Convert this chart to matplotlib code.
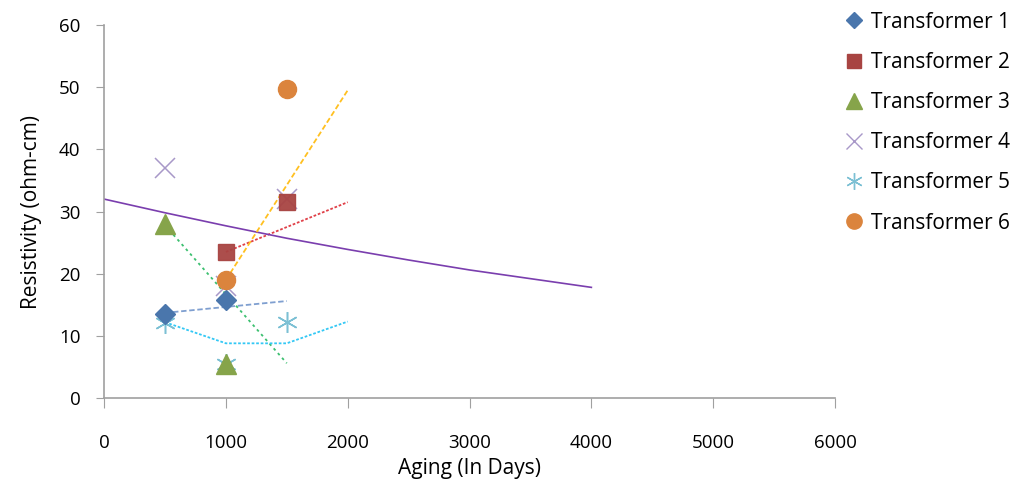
import matplotlib
matplotlib.use("Agg")
import matplotlib.pyplot as plt
from matplotlib.lines import Line2D

plt.rcParams['font.family'] = ['Open Sans', 'DejaVu Sans']

names = ["Transformer 1", "Transformer 2", "Transformer 3",
         "Transformer 4", "Transformer 5", "Transformer 6"]

t1_x = [500, 1000];        t1_y = [13.5, 15.8]
t2_x = [1000, 1500];       t2_y = [23.5, 31.5]
t3_x = [500, 1000];        t3_y = [28.0, 5.5]
t4_x = [500, 1000, 1500];  t4_y = [37.0, 18.0, 32.0]
t5_x = [500, 1000, 1500];  t5_y = [12.0, 5.5, 12.3]
t6_x = [1000, 1500];       t6_y = [19.0, 49.7]

# trend lines
tr1_x = [500, 1500];  tr1_y = [13.7, 15.6]
tr2_x = [1000, 2000]; tr2_y = [23.5, 31.5]
tr3_x = [500, 1500];  tr3_y = [27.8, 5.6]
tr4_x = [0, 500, 1000, 1500, 2000, 2500, 3000, 3500, 4000]
tr4_y = [32.0, 29.8, 27.7, 25.7, 23.9, 22.2, 20.6, 19.2, 17.8]
tr5_x = [500, 1000, 1500, 2000]; tr5_y = [12.2, 8.8, 8.8, 12.3]
tr6_x = [1000, 2000]; tr6_y = [19.0, 49.5]

x_ticks = [0, 1000, 2000, 3000, 4000, 5000, 6000]
y_ticks = [0, 10, 20, 30, 40, 50, 60]

fig = plt.figure(figsize=(10.14, 4.86), dpi=100)
ax = fig.add_axes([0.1026, 0.181, 0.7209, 0.7676])

# trend lines
ax.plot(tr1_x, tr1_y, color='#7f9fd0', lw=1.3, ls=(0, (3, 1.5)), zorder=2)
ax.plot(tr2_x, tr2_y, color='#e04048', lw=1.3, ls=(0, (1.5, 1)), zorder=2)
ax.plot(tr3_x, tr3_y, color='#3cc070', lw=1.3, ls=(0, (1.5, 2)), zorder=2)
ax.plot(tr4_x, tr4_y, color='#7a3eae', lw=1.2, ls='-', zorder=2)
ax.plot(tr5_x, tr5_y, color='#33c8f5', lw=1.3, ls=(0, (1.5, 1)), zorder=2)
ax.plot(tr6_x, tr6_y, color='#ffc020', lw=1.3, ls=(0, (3, 1.5)), zorder=2)

ms = 12
ax.plot(t4_x, t4_y, ls='none', marker='x', ms=14, mew=1.1, color='#a898c8', zorder=3)
ax.plot(t5_x, t5_y, ls='none', marker=(6, 2, 0), ms=15, mew=1.1, color='#7cc0d4', zorder=3)
ax.plot(t1_x, t1_y, ls='none', marker='D', ms=10, color='#4a76ac', zorder=4)
ax.plot(t2_x, t2_y, ls='none', marker='s', ms=ms, color='#a84442', alpha=0.95, zorder=4)
ax.plot(t3_x, t3_y, ls='none', marker='^', ms=14, color='#86a44a', zorder=4)
ax.plot(t6_x, t6_y, ls='none', marker='o', ms=13, color='#db843d', zorder=4)

ax.set_xlim(0, 6000)
ax.set_ylim(0, 60)
ax.set_xticks(x_ticks)
ax.set_yticks(y_ticks)
ax.tick_params(axis='x', direction='out', length=7, color='#a0a0a0', pad=19, labelsize=13.5)
ax.tick_params(axis='y', direction='out', length=6, color='#a0a0a0', pad=11, labelsize=13.5)
for s in ['top', 'right']:
    ax.spines[s].set_visible(False)
for s in ['left', 'bottom']:
    ax.spines[s].set_color('#a0a0a0')
    ax.spines[s].set_linewidth(1.2)

ax.set_xlabel("Aging (In Days)", fontsize=15, labelpad=4)
ax.set_ylabel("Resistivity (ohm-cm)", fontsize=15, labelpad=12)

handles = [
    Line2D([], [], ls='none', marker='D', ms=8, color='#4a76ac'),
    Line2D([], [], ls='none', marker='s', ms=10, color='#a84442'),
    Line2D([], [], ls='none', marker='^', ms=11, color='#86a44a'),
    Line2D([], [], ls='none', marker='x', ms=11, mew=1.0, color='#a898c8'),
    Line2D([], [], ls='none', marker=(6, 2, 0), ms=12, mew=1.0, color='#7cc0d4'),
    Line2D([], [], ls='none', marker='o', ms=11, color='#db843d'),
]
fig.legend(handles, names, loc='upper left', bbox_to_anchor=(0.826, 0.993),
           frameon=False, fontsize=15, handlelength=0.8, handletextpad=0.4,
           labelspacing=0.92, borderaxespad=0)

fig.savefig("out.png", dpi=100)
